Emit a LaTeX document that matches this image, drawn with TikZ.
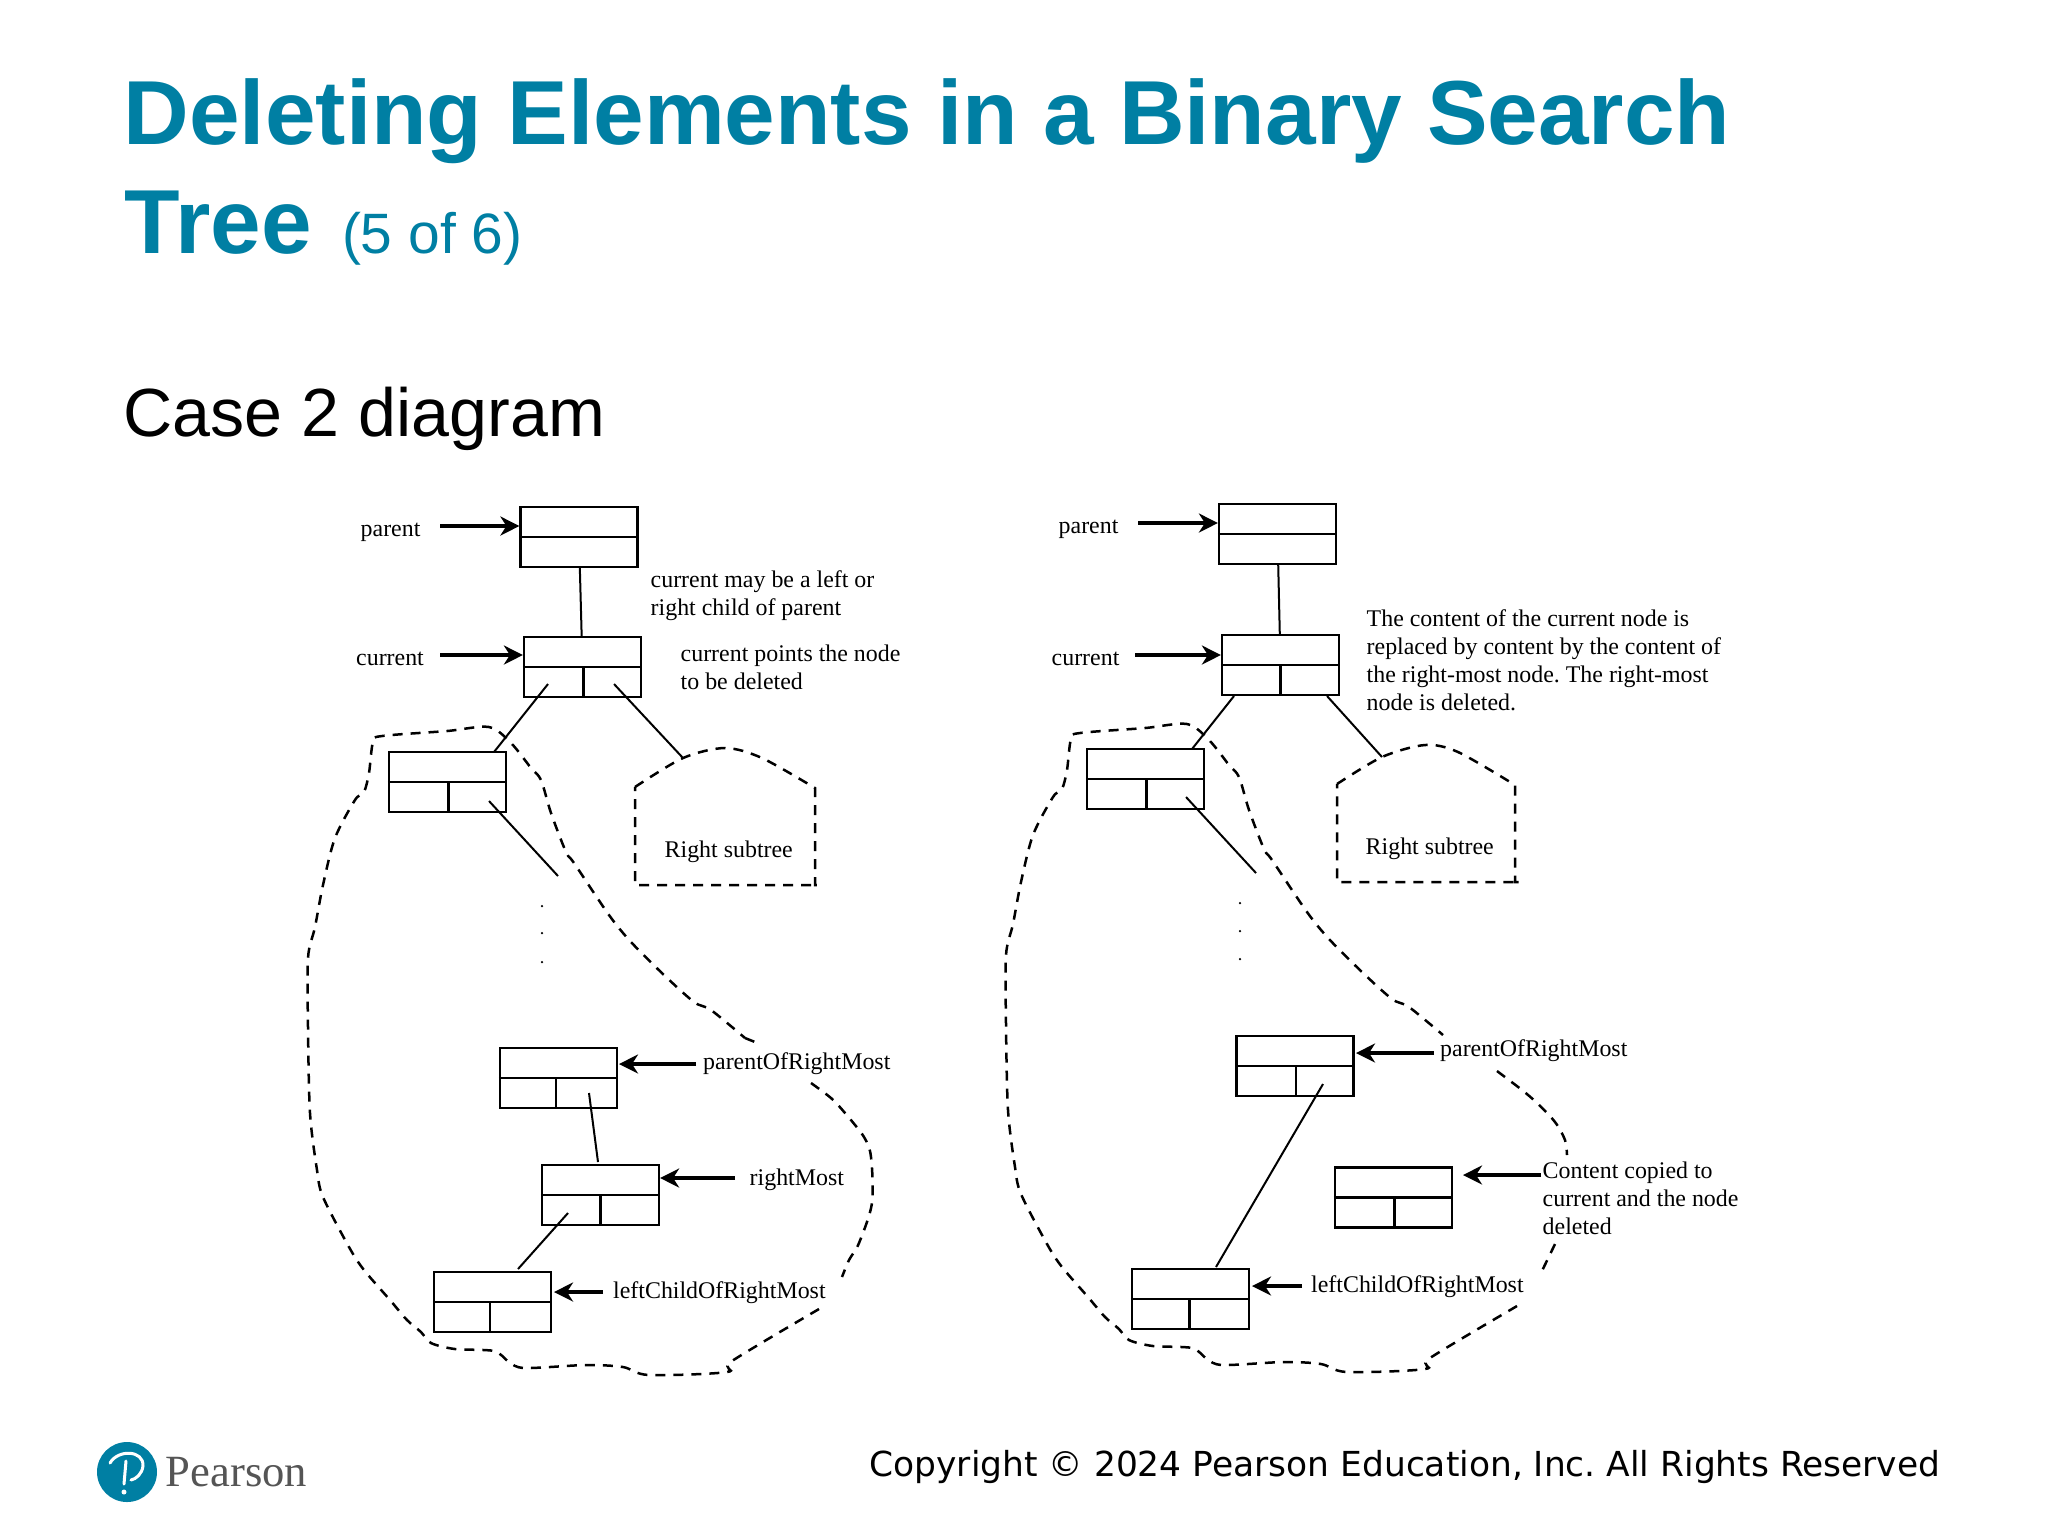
\documentclass[tikz,border=0pt]{standalone}
\usepackage{fontspec}
\setmainfont{Liberation Serif}
\newfontfamily\headfont{Liberation Sans}
\newfontfamily\footfont{DejaVu Sans}
\usetikzlibrary{arrows.meta}
\definecolor{titleblue}{HTML}{007FA3}
\definecolor{logogray}{HTML}{555555}
\frenchspacing
\newcommand{\splitline}[1]{\draw[cellline] (#1.west)--(#1.east);}
\newcommand{\splitcell}[2][0mm]{\splitline{#2}\draw[cellline] ([xshift=#1]#2.center)--([xshift=#1]#2.south);}
\newcommand{\outerblob}{\draw[blobline] plot[smooth,tension=0.5] coordinates {
  (819,1309) (732,1361) (727,1372) (649,1375) (623,1367) (586,1365) (525,1368) (509,1362)
  (494,1351) (455,1349) (431,1343) (421,1332) (407,1320) (390,1300) (364,1270) (349,1247)
  (323,1197) (317,1170) (310,1113) (308,1027) (308,958) (315,927) (323,885) (335,838)
  (355,800) (364,792) (369,773) (373,742) (382,736) (447,731) (489,727) (511,743)
  (531,768) (541,780) (551,813) (566,852) (574,863) (609,915) (631,942) (664,975)
  (694,1002) (711,1010) (745,1038)};}

\begin{document}
\begin{tikzpicture}[x=0.1mm,y=-0.1mm,>=Stealth,
  treebox/.style={draw,line width=0.22mm,minimum width=11.7mm,minimum height=6mm,inner sep=0pt},
  cellline/.style={line width=0.22mm},
  link/.style={line width=0.2mm},
  ptr/.style={-{Stealth[length=1.9mm,width=1.9mm,inset=0.6mm]},line width=0.38mm},
  blobline/.style={line width=0.25mm,dash pattern=on 1mm off 0.8mm},
  lab/.style={font=\fontsize{6.8}{8}\selectfont,inner sep=0pt,anchor=base west},
  note/.style={font=\fontsize{6.8}{8}\selectfont,inner sep=0pt,anchor=north west,align=left},
  dotmark/.style={circle,fill,inner sep=0pt,minimum size=0.25mm}]
\useasboundingbox (0,0) rectangle (2048,1536);

\node[inner sep=0pt,anchor=base west,text=titleblue,font=\headfont\fontsize{25.87}{30}\selectfont\bfseries] (title) at (123,144) {Deleting Elements in a Binary Search};
\node[inner sep=0pt,anchor=base west,text=titleblue,font=\headfont\fontsize{25.87}{30}\selectfont\bfseries] (titletwo) at (124,253) {Tree\hspace{0.5mm} {\mdseries\fontsize{16.2}{20}\selectfont (5 of 6)}};
\node[inner sep=0pt,anchor=base west,font=\headfont\fontsize{19.4}{24}\selectfont] (case) at (123,436) {Case 2 diagram};

% left tree
\node[treebox] (lparent) at (579,537) {};
\node[treebox] (lcurrent) at (582.5,667) {};
\node[treebox] (lchild) at (447.5,782) {};
\node[treebox] (lparentrm) at (558.5,1078) {};
\node[treebox] (lrightmost) at (600.5,1195) {};
\node[treebox] (lleftchild) at (492.5,1302) {};
\splitline{lparent}
\splitcell[0.1mm]{lcurrent}
\splitcell[0.1mm]{lchild}
\splitcell[-0.25mm]{lparentrm}
\splitcell{lrightmost}
\splitcell[-0.25mm]{lleftchild}

\node[lab] (lparentlab) at (360,536) {parent};
\node[lab] (lcurrentlab) at (355.5,665) {current};
\node[note] (lmaybe) at (650,569.5) {current may be a left or\\right child of parent};
\node[note] (lpoints) at (680,644.5) {current points the node\\to be deleted};
\node[lab] (lsubtree) at (664,857) {Right subtree};
\node[lab] (lparentrmlab) at (702.5,1069) {parentOfRightMost};
\node[lab] (lrightmostlab) at (749,1185) {rightMost};
\node[lab] (lleftchildlab) at (612.5,1298) {leftChildOfRightMost};

\coordinate (la) at (440,526);
\coordinate (lb) at (440,655);
\coordinate (lc) at (696,1064);
\coordinate (ld) at (735,1178);
\coordinate (le) at (603,1292);
\draw[ptr] (la)--(la -| lparent.west);
\draw[ptr] (lb)--(lb -| lcurrent.west);
\draw[ptr] (lc)--(619,1064);
\draw[ptr] (ld)--(ld -| lrightmost.east);
\draw[ptr] (le)--(554,1292);

\coordinate (lcurleft) at (548,684);
\coordinate (lcurright) at (614,684);
\coordinate (lchildtop) at (494,752);
\coordinate (lchildcell) at (489,801);
\coordinate (lchildend) at (558,876);
\coordinate (lsubtop) at (683,758);
\coordinate (lprmcell) at (589,1093);
\coordinate (lrmtop) at (598,1162);
\coordinate (lrmcell) at (568,1213);
\coordinate (llctop) at (518,1269);
\draw[link] (lparent)--(lcurrent);
\draw[link] (lcurleft)--(lchildtop);
\draw[link] (lcurright)--(lsubtop);
\draw[link] (lchildcell)--(lchildend);
\draw[link] (lprmcell)--(lrmtop);
\draw[link] (lrmcell)--(llctop);

\node[dotmark] (ldotone) at (542,906) {};
\node[dotmark] (ldottwo) at (542,933) {};
\node[dotmark] (ldotthree) at (542,962) {};

\draw[blobline] plot[smooth,tension=0.5] coordinates {(635,787) (683,758) (725,748) (762,758) (815,788)}--(815,885)--(818,885)--(635,885)--cycle;
\outerblob
\draw[blobline] (745,1038)--(760,1044);
\draw[blobline] plot[smooth,tension=0.5] coordinates {(811,1083) (831,1098) (845,1113) (864,1137) (871,1157) (872,1203) (859,1243) (849,1260) (842,1277)};

% right tree
\node[treebox] (rparent) at (1277.5,534) {};
\node[treebox] (rcurrent) at (1280.5,665) {};
\node[treebox] (rchild) at (1145.5,779) {};
\node[treebox] (rparentrm) at (1295,1066) {};
\node[treebox] (rcopied) at (1393.5,1197.5) {};
\node[treebox] (rleftchild) at (1190.5,1299) {};
\splitline{rparent}
\splitcell{rcurrent}
\splitcell[0.1mm]{rchild}
\splitcell[0.1mm]{rparentrm}
\splitcell[0.1mm]{rcopied}
\splitcell[-0.1mm]{rleftchild}

\node[lab] (rparentlab) at (1058,533.5) {parent};
\node[lab] (rcurrentlab) at (1051,665) {current};
\node[note] (rreplaced) at (1366,608.5) {The content of the current node is\\replaced by content by the content of\\the right-most node. The right-most\\node is deleted.};
\node[lab] (rsubtree) at (1365,854) {Right subtree};
\node[lab] (rparentrmlab) at (1439.5,1056.5) {parentOfRightMost};
\node[note] (rcopiedlab) at (1542,1161) {Content copied to\\current and the node\\deleted};
\node[lab] (rleftchildlab) at (1310.5,1292) {leftChildOfRightMost};

\coordinate (ra) at (1138,523);
\coordinate (rb) at (1135,655);
\coordinate (rc) at (1434,1053);
\coordinate (rd) at (1541,1175);
\coordinate (re) at (1302,1286);
\draw[ptr] (ra)--(ra -| rparent.west);
\draw[ptr] (rb)--(rb -| rcurrent.west);
\draw[ptr] (rc)--(1356,1053);
\draw[ptr] (rd)--(1463,1175);
\draw[ptr] (re)--(1252,1286);

\coordinate (rcurleft) at (1234,696);
\coordinate (rcurright) at (1327,696);
\coordinate (rchildtop) at (1192,749);
\coordinate (rchildcell) at (1186,797);
\coordinate (rchildend) at (1256,873);
\coordinate (rsubtop) at (1382,757);
\coordinate (rprmcell) at (1323,1084);
\coordinate (rlctop) at (1216,1267);
\draw[link] (rparent)--(rcurrent);
\draw[link] (rcurleft)--(rchildtop);
\draw[link] (rcurright)--(rsubtop);
\draw[link] (rchildcell)--(rchildend);
\draw[link] (rprmcell)--(rlctop);

\node[dotmark] (rdotone) at (1240,903) {};
\node[dotmark] (rdottwo) at (1240,931) {};
\node[dotmark] (rdotthree) at (1240,959) {};

\draw[blobline] plot[smooth,tension=0.5] coordinates {(1337,784) (1382,757) (1425,745) (1458,752) (1515,785)}--(1515,882)--(1520,882)--(1337,882)--cycle;
\begin{scope}[shift={(698,-3)}]
\outerblob
\end{scope}
\draw[blobline] plot[smooth,tension=0.5] coordinates {(1497,1071) (1522,1090) (1537,1103) (1555,1122) (1565,1140) (1567,1155)};
\draw[blobline] (1555,1244)--(1540,1275);

% footer
\node[circle,fill=titleblue,inner sep=0pt,minimum size=6mm] (logo) at (127,1472) {};
\draw[white,line width=0.3mm,line cap=round] (110,1463) .. controls (118,1449) and (144,1450) .. (143,1466) .. controls (142,1474) and (136,1479) .. (131,1480);
\draw[white,line width=0.3mm,line cap=round] (126,1461)--(124,1484);
\node[circle,fill=white,inner sep=0pt,minimum size=0.5mm] (logodot) at (124,1492) {};
\node[inner sep=0pt,anchor=base west,text=logogray,font=\fontsize{12.7}{14}\selectfont] (pearson) at (165,1486) {Pearson};
\node[inner sep=0pt,anchor=base east,font=\footfont\fontsize{9.8}{12}\selectfont] (copyright) at (1941,1476) {Copyright © 2024 Pearson Education, Inc. All Rights Reserved};
\end{tikzpicture}
\end{document}
